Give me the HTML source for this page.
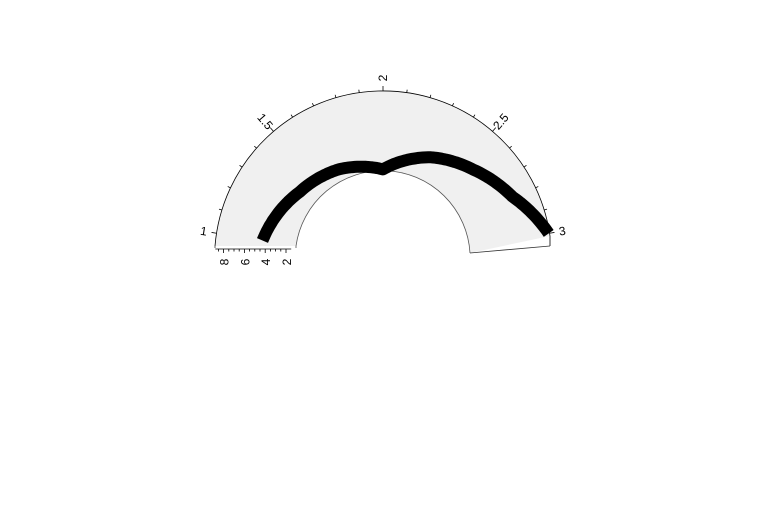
<!DOCTYPE html>
<html><head><meta charset="utf-8"><style>
html,body{margin:0;padding:0;background:#fff;}
svg text{font-family:"Liberation Sans",sans-serif;font-size:12px;fill:#000;}
</style></head><body>
<svg id="chart" width="761" height="505" xmlns="http://www.w3.org/2000/svg"></svg>
<script>
const xValues=[1,1.37,1.68,2,2.31,2.56,2.79,3];
const yValues=[4.4,3.0,2.33,1.35,3.54,4.95,6.5,8.8];
const xTicks=[1,1.5,2,2.5,3];
const yTicks=[2,4,6,8];

const NS='http://www.w3.org/2000/svg';
const svg=document.getElementById('chart');
const cx=383, cy=259.6;
function ang(x){return (171-(x-1)*81)*Math.PI/180;}
function rad(v){return 97+(v-2)*10.4;}
function pt(x,v){const a=ang(x),r=rad(v);return [cx+r*Math.cos(a),cy-r*Math.sin(a)];}
function mk(tag,attrs){const e=document.createElementNS(NS,tag);for(const k in attrs)e.setAttribute(k,attrs[k]);svg.appendChild(e);return e;}

const Ro=168.6, Ri=87.5;
const bg=mk('path',{d:`M215,246 A${Ro},${Ro} 0 0 1 550,236 L470,253 A${Ri},${Ri} 0 0 0 296,246 Z`,fill:'#f0f0f0',stroke:'none'});


const oa=mk('path',{d:`M215,246 A${Ro},${Ro} 0 0 1 550,236 L550,246`,fill:'none',stroke:'#000','stroke-width':0.8});


const ia=mk('path',{d:`M470,253 A${Ri},${Ri} 0 0 0 296,246 L296,248`,fill:'none',stroke:'#555','stroke-width':0.8});


const be=mk('path',{d:`M550,246 L470,253 M215,246 L215,248`,fill:'none',stroke:'#333','stroke-width':0.8});



for(let i=0;i<=20;i++){
  const x=1+i*0.1,a=ang(x),major=i%5===0,l=major?5:3;
  const t=mk('line',{x1:cx+Ro*Math.cos(a),y1:cy-Ro*Math.sin(a),x2:cx+(Ro+l)*Math.cos(a),y2:cy-(Ro+l)*Math.sin(a),stroke:'#000','stroke-width':0.8});
  
  
}
xTicks.forEach(x=>{
  const a=ang(x),deg=a*180/Math.PI,r=Ro+13;
  const px=cx+r*Math.cos(a),py=cy-r*Math.sin(a);
  const rot=deg>90.5?180-deg:-deg;
  const t=mk('text',{x:px,y:py,'text-anchor':'middle','dominant-baseline':'central',transform:`rotate(${rot} ${px} ${py})`});
  t.textContent=String(x);
  
  
});

const yl=mk('line',{x1:cx-rad(8.8),y1:249,x2:cx-rad(1.5),y2:249,stroke:'#000','stroke-width':0.8});


for(let v=2;v<=8.5;v+=0.5){
  const major=Math.abs(v-Math.round(v/2)*2)<1e-6,l=major?4:2.5;
  const t=mk('line',{x1:cx-rad(v),y1:249,x2:cx-rad(v),y2:249+l,stroke:'#000','stroke-width':0.8});
  
  
}
yTicks.forEach(v=>{
  const px=cx-rad(v)+1,py=262;
  const t=mk('text',{x:px,y:py,'text-anchor':'middle','dominant-baseline':'central',transform:`rotate(-90 ${px} ${py})`});
  t.textContent=String(v);
  
  
});

let d='';
for(let i=0;i<xValues.length-1;i++){
  for(let s=(i?1:0);s<=20;s++){
    const f=s/20,x=xValues[i]+(xValues[i+1]-xValues[i])*f,v=yValues[i]+(yValues[i+1]-yValues[i])*f;
    const p=pt(x,v);d+=(d?'L':'M')+p[0].toFixed(1)+','+p[1].toFixed(1);
  }
}
const ln=mk('path',{d:d,fill:'none',stroke:'#000','stroke-width':12,'stroke-linejoin':'round','stroke-linecap':'butt'});


</script>
</body></html>
